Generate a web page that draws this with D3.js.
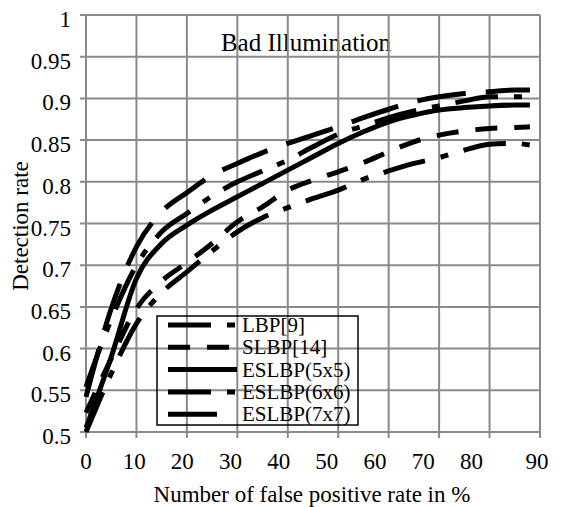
<!DOCTYPE html>
<html>
<head>
<meta charset="utf-8">
<script src="https://cdn.jsdelivr.net/npm/d3@7/dist/d3.min.js"></script>
<style>
  body { margin: 0; background: #fff; }
  svg text { font-family: "Liberation Serif", "Times New Roman", serif; fill: #000; }
</style>
</head>
<body>
<svg id="chart" width="561" height="507"></svg>
<script>
// false positive rate (%) sample points
var fpr = [0, 5, 10, 15, 20, 25, 30, 35, 40, 45, 50, 55, 60, 65, 70, 75, 80, 85, 88];

var lbp9     = [0.500, 0.570, 0.630, 0.667, 0.692, 0.717, 0.740, 0.757, 0.769, 0.780, 0.790, 0.803, 0.813, 0.822, 0.829, 0.838, 0.845, 0.846, 0.844];
var slbp14   = [0.523, 0.588, 0.648, 0.681, 0.703, 0.726, 0.752, 0.770, 0.790, 0.802, 0.812, 0.823, 0.836, 0.848, 0.856, 0.861, 0.864, 0.865, 0.866];
var eslbp5x5 = [0.505, 0.590, 0.684, 0.726, 0.748, 0.766, 0.782, 0.798, 0.814, 0.830, 0.846, 0.860, 0.872, 0.880, 0.886, 0.889, 0.891, 0.892, 0.892];
var eslbp6x6 = [0.554, 0.635, 0.700, 0.740, 0.762, 0.783, 0.800, 0.813, 0.826, 0.842, 0.857, 0.867, 0.877, 0.885, 0.891, 0.897, 0.902, 0.902, 0.902];
var eslbp7x7 = [0.542, 0.648, 0.722, 0.764, 0.787, 0.808, 0.822, 0.835, 0.846, 0.856, 0.866, 0.877, 0.887, 0.896, 0.902, 0.906, 0.908, 0.910, 0.910];

var seriesNames = ["LBP[9]", "SLBP[14]", "ESLBP(5x5)", "ESLBP(6x6)", "ESLBP(7x7)"];
var seriesValues = [lbp9, slbp14, eslbp5x5, eslbp6x6, eslbp7x7];
var seriesDash = ["43,16,8,16", "22,17", null, "43,16,8,16", "49,20"];

var xTicks = [0, 10, 20, 30, 40, 50, 60, 70, 80, 90];
var yTicks = [0.5, 0.55, 0.6, 0.65, 0.7, 0.75, 0.8, 0.85, 0.9, 0.95, 1];

(function drawChart() {
    var svg = d3.select("#chart");
    var plotLeft = 86, plotRight = 540, plotTop = 15, plotBottom = 432;

    var x = d3.scaleLinear().domain([0, 90]).range([plotLeft, plotRight]);
    var y = d3.scaleLinear().domain([0.5, 1]).range([plotBottom, plotTop]);

    var gridColor = "#8a8a8a";

    // title (sits under the grid)
    svg.append("text")
        .attr("x", 306).attr("y", 51)
        .attr("text-anchor", "middle")
        .style("font-size", "25px")
        .text("Bad Illumination");

    // grid
    var grid = svg.append("g");
    grid.selectAll("line.v").data(xTicks).enter().append("line")
        .attr("class", "v")
        .attr("x1", function(d) { return x(d); })
        .attr("x2", function(d) { return x(d); })
        .attr("y1", plotTop).attr("y2", plotBottom + 6)
        .attr("stroke", gridColor).attr("stroke-width", 2);
    grid.selectAll("line.h").data(yTicks).enter().append("line")
        .attr("class", "h")
        .attr("x1", plotLeft - 6).attr("x2", plotRight)
        .attr("y1", function(d) { return y(d); })
        .attr("y2", function(d) { return y(d); })
        .attr("stroke", gridColor).attr("stroke-width", 2);

    // tick labels
    svg.append("g").selectAll("text").data(yTicks).enter().append("text")
        .attr("x", 71)
        .attr("y", function(d) { return y(d) + 12; })
        .attr("text-anchor", "end")
        .style("font-size", "23px")
        .text(function(d) { return d3.format("")(d); });

    svg.append("g").selectAll("text").data(xTicks).enter().append("text")
        .attr("x", function(d) { return d < 90 ? x(d * 0.955) : x(d) - 3; })
        .attr("y", 469)
        .attr("text-anchor", "middle")
        .style("font-size", "23px")
        .text(function(d) { return d; });

    // axis titles
    svg.append("text")
        .attr("transform", "translate(28,226) rotate(-90)")
        .attr("text-anchor", "middle")
        .style("font-size", "23px")
        .text("Detection rate");

    svg.append("text")
        .attr("x", 312).attr("y", 502)
        .attr("text-anchor", "middle")
        .style("font-size", "23px")
        .text("Number of false positive rate in %");

    // curves
    var line = d3.line()
        .x(function(d, i) { return x(fpr[i]); })
        .y(function(d) { return y(d); })
        .curve(d3.curveMonotoneX);

    svg.append("g").selectAll("path").data(seriesValues).enter().append("path")
        .attr("d", line)
        .attr("fill", "none")
        .attr("stroke", "#000")
        .attr("stroke-width", 5)
        .attr("stroke-dasharray", function(d, i) { return seriesDash[i]; });

    // legend
    var lg = svg.append("g").attr("transform", "translate(157,316)");
    lg.append("rect")
        .attr("width", 201).attr("height", 109)
        .attr("fill", "none").attr("stroke", "#000").attr("stroke-width", 1.5);
    var rows = lg.selectAll("g.row").data(seriesNames).enter().append("g")
        .attr("class", "row")
        .attr("transform", function(d, i) { return "translate(0," + (9 + i * 22.3) + ")"; });
    rows.append("line")
        .attr("x1", 11).attr("x2", 80)
        .attr("stroke", "#000").attr("stroke-width", 5)
        .attr("stroke-dasharray", function(d, i) { return seriesDash[i]; });
    rows.append("text")
        .attr("x", 85).attr("y", 7)
        .style("font-size", "21px")
        .text(function(d) { return d; });
})();
</script>
</body>
</html>
